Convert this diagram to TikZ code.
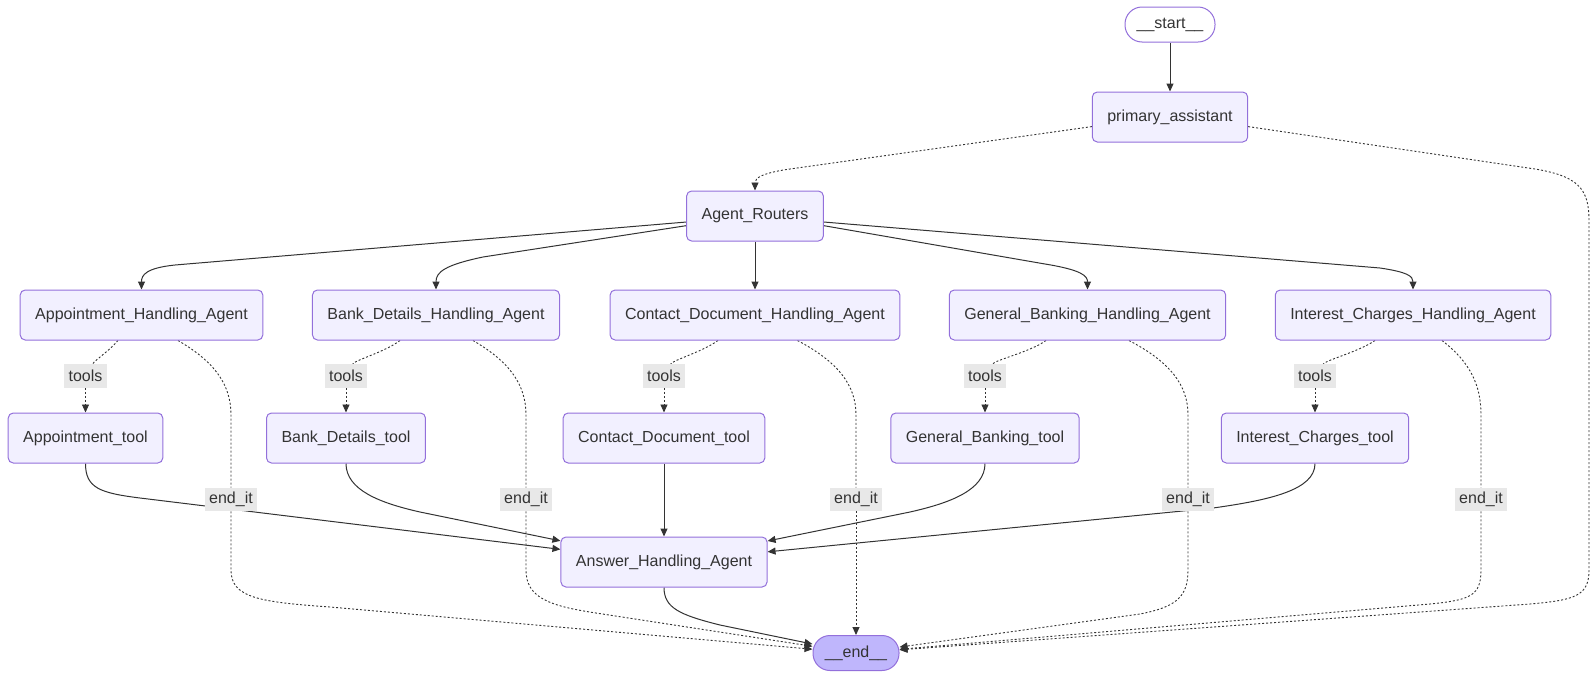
\documentclass[tikz,border=0pt]{standalone}
\usepackage{fontspec}
\setmainfont{Liberation Sans}
\usetikzlibrary{arrows.meta}
\definecolor{nodefill}{HTML}{F2F0FF}
\definecolor{nodeline}{HTML}{9370DB}
\definecolor{endfill}{HTML}{BFB6FC}
\definecolor{edgec}{HTML}{333333}
\definecolor{lblfill}{HTML}{E8E8E8}
\pgfdeclarelayer{background}
\pgfsetlayers{background,main}

\begin{document}
\begin{tikzpicture}[x=1pt,y=-1pt,
    box/.style={draw=nodeline, fill=nodefill, line width=1pt, rounded corners=5pt,
      minimum height=50pt, inner xsep=15pt, text=edgec, font=\fontsize{16}{19}\selectfont},
    term/.style={box, rounded corners=17pt, minimum height=35pt, inner xsep=4pt},
    lbl/.style={fill=lblfill, text=edgec, inner xsep=4.5pt, inner ysep=0pt,
      minimum height=23.5pt, font=\fontsize{16}{19}\selectfont},
    flow/.style={draw=edgec, line width=1pt, -{Triangle[length=8pt,width=7pt]}},
    cond/.style={flow, line width=0.9pt, dash pattern=on 2pt off 2pt},
    condline/.style={draw=edgec, line width=0.9pt, dash pattern=on 2pt off 2pt}]
      \useasboundingbox (0,0) rectangle (1595,678);
      \node[term, fill=white, minimum width=90pt] (start) at (1170,24.5) {\_\_start\_\_};
      \node[box] (prim) at (1170,117) {primary\_assistant};
      \node[box] (ar) at (755,216) {Agent\_Routers};
      \node[box] (app) at (141.5,315) {Appointment\_Handling\_Agent};
      \node[box] (bank) at (436,315) {Bank\_Details\_Handling\_Agent};
      \node[box] (contact) at (755,315) {Contact\_Document\_Handling\_Agent};
      \node[box] (general) at (1087.5,315) {General\_Banking\_Handling\_Agent};
      \node[box] (interest) at (1413,315) {Interest\_Charges\_Handling\_Agent};
      \node[box] (apptool) at (85.5,438) {Appointment\_tool};
      \node[box] (banktool) at (346,438) {Bank\_Details\_tool};
      \node[box] (contacttool) at (664,438) {Contact\_Document\_tool};
      \node[box] (generaltool) at (985,438) {General\_Banking\_tool};
      \node[box] (interesttool) at (1315,438) {Interest\_Charges\_tool};
      \node[box] (ans) at (664,562) {Answer\_Handling\_Agent};
      \node[term, fill=endfill, minimum width=86pt] (endn) at (856,653) {\_\_end\_\_};
      \node[lbl] (tools1) at (85.5,376) {tools};
      \node[lbl] (tools2) at (346,376) {tools};
      \node[lbl] (tools3) at (664,376) {tools};
      \node[lbl] (tools4) at (985,376) {tools};
      \node[lbl] (tools5) at (1315,376) {tools};
      \node[lbl] (endit1) at (231,499.5) {end\_it};
      \node[lbl] (endit2) at (526,499.5) {end\_it};
      \node[lbl] (endit3) at (856,499.5) {end\_it};
      \node[lbl] (endit4) at (1188,499.5) {end\_it};
      \node[lbl] (endit5) at (1481,499.5) {end\_it};
      \begin{pgfonlayer}{background}
      \draw[flow] (start) -- (prim);
      \draw[cond] (prim.187) -- (790,169) .. controls (762,173) and (755,178) .. (ar.north);
      \draw[cond] (prim.353) -- (1535,169) .. controls (1577,176) and (1589,188) .. (1589,220)
        -- (1589,570) .. controls (1589,596) and (1575,600) .. (1530,604) -- (endn);
      \draw[flow] (ar.185) -- (175,265) .. controls (146,268) and (141.5,275) .. (app.north);
      \draw[flow] (ar.188) -- (483,257) .. controls (445,265) and (436,272) .. (bank.north);
      \draw[flow] (ar) -- (contact);
      \draw[flow] (ar.352) -- (1045,264) .. controls (1082,270) and (1087.5,276) .. (general.north);
      \draw[flow] (ar.355) -- (1380,268) .. controls (1407,272) and (1413,276) .. (interest.north);
      \draw[condline] ([xshift=-23.5pt]app.south) .. controls (108,352) and (95,360) .. (tools1);
      \draw[condline] ([xshift=-36pt]bank.south) .. controls (385,352) and (355,360) .. (tools2);
      \draw[condline] ([xshift=-37pt]contact.south) .. controls (702,352) and (673,360) .. (tools3);
      \draw[condline] ([xshift=-41.5pt]general.south) .. controls (1030,352) and (995,360) .. (tools4);
      \draw[condline] ([xshift=-38pt]interest.south) .. controls (1358,352) and (1326,360) .. (tools5);
      \draw[cond] (tools1) -- (apptool);
      \draw[cond] (tools2) -- (banktool);
      \draw[cond] (tools3) -- (contacttool);
      \draw[cond] (tools4) -- (generaltool);
      \draw[cond] (tools5) -- (interesttool);
      \draw[condline] ([xshift=36.5pt]app.south) .. controls (215,362) and (231,385) .. (231,415) -- (endit1);
      \draw[condline] ([xshift=37pt]bank.south) .. controls (510,362) and (526,385) .. (526,415) -- (endit2);
      \draw[condline] ([xshift=42.5pt]contact.south) .. controls (838,362) and (856,385) .. (856,415) -- (endit3);
      \draw[condline] ([xshift=41.5pt]general.south) .. controls (1170,362) and (1188,385) .. (1188,415) -- (endit4);
      \draw[condline] ([xshift=29pt]interest.south) .. controls (1470,362) and (1481,385) .. (1481,415) -- (endit5);
      \draw[cond] (endit1) -- (231,570) .. controls (231,598) and (260,602) .. (330,607) -- (endn);
      \draw[cond] (endit2) -- (526,570) .. controls (526,598) and (550,606) .. (596,613) -- (endn);
      \draw[cond] (endit3) -- (endn);
      \draw[cond] (endit4) -- (1188,570) .. controls (1188,598) and (1175,607) .. (1140,614) -- (endn);
      \draw[cond] (endit5) -- (1481,570) .. controls (1481,596) and (1470,600) .. (1430,604) -- (endn);
      \draw[flow] (apptool.south) .. controls (85.5,488) and (100,493) .. (140,498) -- (ans);
      \draw[flow] (banktool.south) .. controls (346,490) and (380,503) .. (420,512) -- (ans);
      \draw[flow] (contacttool) -- (ans);
      \draw[flow] (generaltool.south) .. controls (985,490) and (950,503) .. (910,512) -- (ans);
      \draw[flow] (interesttool.south) .. controls (1315,490) and (1270,500) .. (1213,508) -- (ans);
      \draw[flow] (ans.south) .. controls (664,608) and (680,615) .. (720,625) -- (endn);
      \end{pgfonlayer}
    \end{tikzpicture}
\end{document}
